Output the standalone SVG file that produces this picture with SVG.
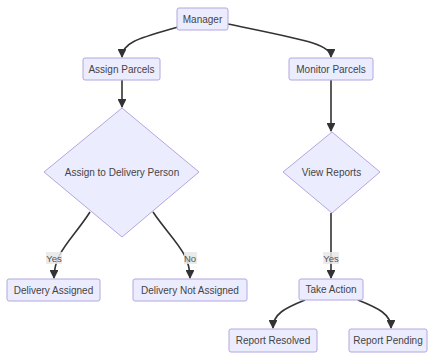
<svg xmlns="http://www.w3.org/2000/svg" width="429" height="354" viewBox="0 0 429 354">
<defs>
<style>
.node rect, .node polygon { fill: #ECECFF; stroke: #b4a6e0; stroke-width: 1; }
.node text { font-family: "Liberation Sans", Arial, sans-serif; font-size: 10px; fill: #444; text-anchor: middle; dominant-baseline: central; }
.edges path { fill: none; stroke: #333; stroke-width: 1.6; marker-end: url(#arrow); }
.elabel rect { fill: #e8e8e8; opacity: 0.85; }
.elabel text { font-family: "Liberation Sans", Arial, sans-serif; font-size: 9.5px; fill: #555; text-anchor: middle; dominant-baseline: central; }
</style>
<marker id="arrow" viewBox="0 0 10 10" refX="9" refY="5" markerWidth="5.5" markerHeight="5.5" orient="auto" markerUnits="strokeWidth">
<path d="M0,0 L10,5 L0,10 z" fill="#333"/>
</marker>
</defs>
<rect width="429" height="354" fill="#ffffff"/>
<g class="edges">
<path d="M178,27 C140,38 122,42 122,57"/>
<path d="M228,24 C305,40 331,44 331,57"/>
<path d="M122,80 L122,107"/>
<path d="M331,80 L331,131"/>
<path d="M90,212 C72,240 54,252 54,278"/>
<path d="M153,212 C172,240 190,252 190,278"/>
<path d="M331,213 L331,278"/>
<path d="M305,300 C285,308 273,314 273,328"/>
<path d="M358,300 C378,308 391,314 391,328"/>
</g>
<g class="elabel">
<rect x="46" y="252" width="16" height="12"/><text x="54" y="258">Yes</text>
<rect x="184" y="252" width="13" height="12"/><text x="190" y="258">No</text>
<rect x="323" y="252" width="16" height="12"/><text x="331" y="258">Yes</text>
</g>
<g id="manager" class="node"><rect x="177" y="8" width="51" height="22" rx="2"/><text x="202.5" y="19">Manager</text></g>
<g id="assign" class="node"><rect x="83" y="58" width="77" height="22" rx="2"/><text x="121.5" y="69">Assign Parcels</text></g>
<g id="monitor" class="node"><rect x="289" y="58" width="84" height="22" rx="2"/><text x="331" y="69">Monitor Parcels</text></g>
<g id="assignDecision" class="node"><polygon points="122,108 199,172 122,237 44,172"/><text x="122" y="172">Assign to Delivery Person</text></g>
<g id="viewReports" class="node"><polygon points="332,132 380,172 332,213 283,172"/><text x="331.5" y="172">View Reports</text></g>
<g id="deliveryAssigned" class="node"><rect x="7" y="279" width="93" height="22" rx="2"/><text x="53.5" y="290">Delivery Assigned</text></g>
<g id="deliveryNotAssigned" class="node"><rect x="133" y="279" width="114" height="22" rx="2"/><text x="190" y="290">Delivery Not Assigned</text></g>
<g id="takeAction" class="node"><rect x="299" y="279" width="64" height="21" rx="2"/><text x="331" y="289.5">Take Action</text></g>
<g id="reportResolved" class="node"><rect x="229" y="329" width="88" height="23" rx="2"/><text x="273" y="340.5">Report Resolved</text></g>
<g id="reportPending" class="node"><rect x="349" y="329" width="78" height="23" rx="2"/><text x="388" y="340.5">Report Pending</text></g>
</svg>
